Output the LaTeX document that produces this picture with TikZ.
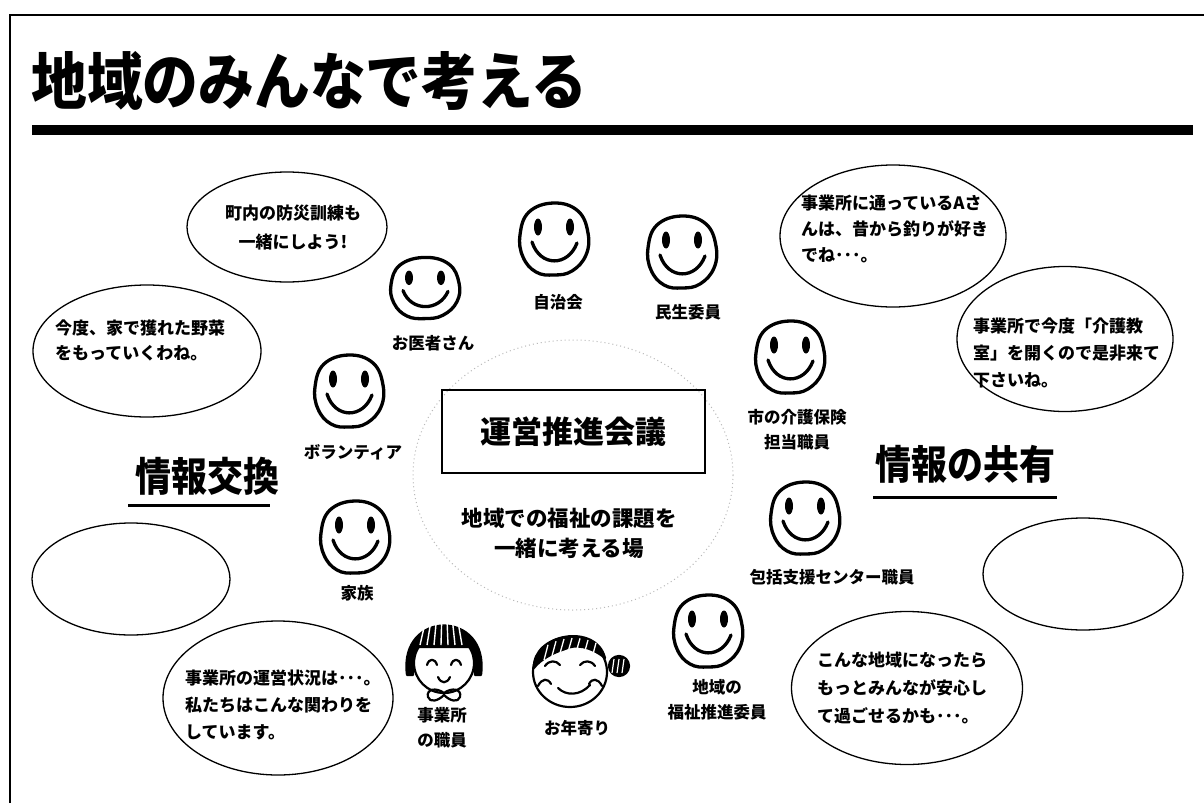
\documentclass[tikz,border=0pt]{standalone}
\usepackage{fontspec}
\usetikzlibrary{shapes.geometric}
\newfontfamily\jp{Noto Sans CJK JP}
\newfontfamily\jpn{Noto Sans CJK JP}[FakeStretch=0.9]
\begin{document}
\begin{tikzpicture}[x=1pt,y=-1pt,
  bubble/.style={draw, ellipse, line width=1.3pt, inner sep=0pt},
  bubbletext/.style={font=\jp\bfseries\fontsize{17}{27}\selectfont, align=left, inner sep=0pt, anchor=west},
  who/.style={font=\jp\bfseries\fontsize{16.5}{25}\selectfont, align=center, inner sep=0pt},
  heading/.style={font=\jpn\bfseries\fontsize{40}{44}\selectfont, inner sep=0pt},
  stroke/.style={line width=3.3pt, line cap=round, line join=round},
  pen/.style={line width=2.2pt, line cap=round, line join=round},
  pics/smiley/.style={code={
    \draw[stroke] plot[smooth cycle, tension=0.7] coordinates
      {(0,-36) (24,-28) (34,-6) (32,16) (18,32) (0,36) (-18,33) (-31,18) (-34,-4) (-25,-27)};
    \fill (-16,-12) ellipse[x radius=4, y radius=8.5];
    \fill (16,-12) ellipse[x radius=4, y radius=8.5];
    \draw[stroke] (-22,3) .. controls (-14,28) and (14,28) .. (23,4);
  }},
  pics/girl/.style={code={
    \draw[pen] (0,8) circle[radius=30];
    \filldraw[pen, fill=black] (-37,20) .. controls (-46,-46) and (46,-46) .. (37,20)
      -- (31,20) .. controls (31,4) and (29,-4) .. (27,-8) -- (-27,-8)
      .. controls (-29,-4) and (-31,4) .. (-31,20) -- cycle;
    \foreach \i in {-24,-17,...,24}
      \draw[white, line width=1.4pt] (\i,-10) -- ({0.8*\i},-31);
    \draw[pen] (-17,10) .. controls (-15,3) and (-9,3) .. (-7,10);
    \draw[pen] (7,10) .. controls (9,3) and (15,3) .. (17,10);
    \draw[pen] (-6,22) .. controls (-3,29) and (3,29) .. (6,22);
    \draw[pen] (0,38) .. controls (-8,32) and (-18,34) .. (-16,42)
      .. controls (-14,48) and (-6,46) .. (0,40)
      .. controls (6,46) and (14,48) .. (16,42)
      .. controls (18,34) and (8,32) .. (0,38);
  }},
  pics/elder/.style={code={
    \draw[pen] (0,0) ellipse[x radius=37, y radius=35];
    \filldraw[pen, fill=black] (-36,-4) .. controls (-38,-38) and (26,-50) .. (35,-14)
      .. controls (20,-26) and (5,-28) .. (-5,-23)
      .. controls (-18,-19) and (-30,-12) .. (-36,-4) -- cycle;
    \foreach \i in {-26,-18,...,28}
      \draw[white, line width=1.3pt] (\i,{-20+0.012*\i*\i}) -- ({\i+4},{-34+0.01*\i*\i});
    \filldraw[pen, fill=black] (49,-6) circle[radius=10];
    \foreach \i in {-5,0,5}
      \draw[white, line width=1.2pt] ({49+\i},-13) -- ({47+\i},1);
    \draw[pen] (-25,-6) .. controls (-21,-12) and (-14,-12) .. (-10,-7);
    \draw[pen] (10,-7) .. controls (14,-12) and (21,-12) .. (25,-6);
    \draw[pen] (-32,14) .. controls (-28,6) and (-22,6) .. (-19,12);
    \draw[pen] (19,12) .. controls (22,6) and (28,6) .. (32,14);
    \draw[pen] (-12,16) .. controls (-4,24) and (10,24) .. (20,13);
  }}
]
% page
\fill[white] (0,0) rectangle (1204,803);
\useasboundingbox (0,0) rectangle (1204,803);

% frame and title
\draw[line width=2pt] (10,803) -- (10,15) -- (1204,15);
\node[font=\jpn\bfseries\fontsize{62}{66}\selectfont, inner sep=0pt, anchor=west] (title) at (31,81) {地域のみんなで考える};
\fill (32,125) rectangle (1193,135);

% central meeting
\draw[gray!55, line width=1pt, dash pattern=on 1pt off 3pt] (573,475) ellipse[x radius=160, y radius=135];
\node[draw, line width=2.2pt, minimum width=263pt, minimum height=83pt, inner sep=0pt,
      font=\jp\bfseries\fontsize{31}{34}\selectfont] (meeting) at (573.5,431.5) {運営推進会議};
\node[font=\jp\bfseries\fontsize{21.5}{30}\selectfont, align=center, inner sep=0pt] (place) at (569,533)
  {地域での福祉の課題を\\一緒に考える場};

% headings
\node[heading] (exchange) at (207,476) {情報交換};
\draw[line width=3pt] (128,505) -- (270,505);
\node[heading] (sharing) at (965,464) {情報の共有};
\draw[line width=3pt] (873,497) -- (1057,497);

% speech bubbles
\node[bubble, minimum width=200pt, minimum height=110pt] (b1) at (287,227) {};
\node[bubbletext, align=center, anchor=center, font=\jp\bfseries\fontsize{17}{29}\selectfont] (t1) at (293,228) {町内の防災訓練も\\一緒にしよう!};

\node[bubble, minimum width=228pt, minimum height=132pt] (b2) at (147,351) {};
\node[bubbletext, font=\jp\bfseries\fontsize{17}{25}\selectfont] (t2) at (55,340) {今度、家で獲れた野菜\\をもっていくわね。};

\node[bubble, minimum width=226pt, minimum height=142pt] (b3) at (893,236) {};
\node[bubbletext, font=\jp\bfseries\fontsize{17}{26}\selectfont] (t3) at (801,229) {事業所に通っているAさ\\んは、昔から釣りが好き\\でね･･･。};

\node[bubble, minimum width=216pt, minimum height=145pt] (b4) at (1065,339) {};
\node[bubbletext] (t4) at (973,353) {事業所で今度「介護教\\室」を開くので是非来て\\下さいね。};

\node[bubble, minimum width=198pt, minimum height=112pt] (b5) at (131,579) {};

\node[bubble, minimum width=230pt, minimum height=154pt] (b6) at (278,698) {};
\node[bubbletext] (t6) at (185,705) {事業所の運営状況は･･･。\\私たちはこんな関わりを\\しています。};

\node[bubble, minimum width=200pt, minimum height=112pt] (b7) at (1083,574) {};

\node[bubble, minimum width=231pt, minimum height=153pt] (b8) at (907,688) {};
\node[bubbletext, font=\jp\bfseries\fontsize{17}{28}\selectfont] (t8) at (817,688) {こんな地域になったら\\もっとみんなが安心し\\て過ごせるかも･･･。};

% people
\pic[yscale=0.85] at (425,288) {smiley};
\node[who] (doctor) at (433,343) {お医者さん};
\pic at (554,239) {smiley};
\node[who] (council) at (558,302) {自治会};
\pic at (682,252) {smiley};
\node[who] (welfare) at (688,312) {民生委員};
\pic at (790,357) {smiley};
\node[who] (city) at (797,430) {市の介護保険\\担当職員};
\pic at (805,518) {smiley};
\node[who] (center) at (832,577) {包括支援センター職員};
\pic at (708,631) {smiley};
\node[who] (promoter) at (717,700) {地域の\\福祉推進委員};
\pic at (570,672) {elder};
\node[who] (elderly) at (577,728) {お年寄り};
\pic at (444,655) {girl};
\node[who] (staff) at (442,728) {事業所\\の職員};
\pic at (355,537) {smiley};
\node[who] (family) at (357,593) {家族};
\pic at (349,391) {smiley};
\node[who] (volunteer) at (353,452) {ボランティア};
\end{tikzpicture}
\end{document}
